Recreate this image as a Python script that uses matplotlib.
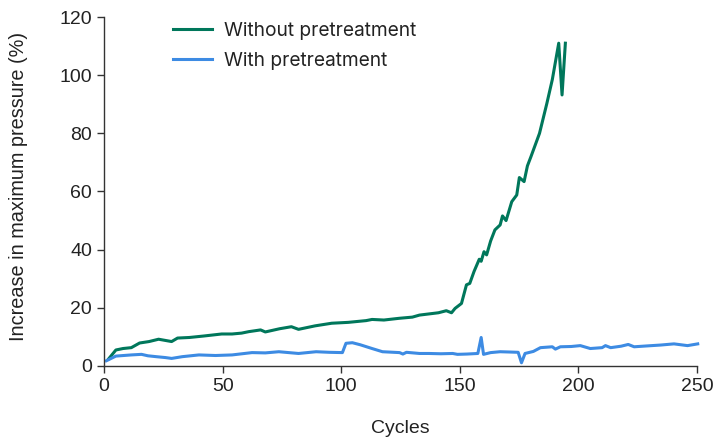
import matplotlib
matplotlib.use("Agg")
import matplotlib.pyplot as plt

plt.rcParams['font.family'] = ['Liberation Sans', 'DejaVu Sans']

# Without pretreatment (green)
cyc_without = [2, 5, 8, 11.5, 15, 19, 23, 28.5, 31, 36, 42, 49.6, 54, 58, 61, 66, 68, 74, 79, 82,
               89, 96, 103, 110.5, 113, 118, 124.5, 130, 133, 137, 141, 144.3, 146.5, 148, 150.7,
               152.8, 154.2, 156, 158.2, 159, 160.2, 161.3, 163, 164.8, 167, 168, 169.5, 171.9,
               174, 175.1, 177.1, 178.5, 180, 181.8, 183.6, 186.7, 189, 191.7, 193.1, 194.5]
val_without = [2.5, 5.5, 6.0, 6.3, 7.9, 8.4, 9.2, 8.4, 9.6, 9.8, 10.3, 11.0, 11.0, 11.3, 11.8, 12.4, 11.7,
               12.8, 13.5, 12.6, 13.8, 14.7, 15.0, 15.6, 16.0, 15.8, 16.4, 16.8, 17.5, 17.9, 18.3,
               19.0, 18.3, 19.8, 21.5, 27.9, 28.4, 32.5, 36.7, 36.0, 39.3, 38.2, 43.0, 46.8, 48.5,
               51.6, 50.0, 56.5, 58.8, 64.8, 63.4, 68.8, 72.0, 76.0, 80.0, 90.3, 98.5, 111.0, 93.2, 111.0]

# With pretreatment (blue)
cyc_with = [1, 5, 11.5, 15.8, 18.5, 22, 25.8, 28.5, 33, 40, 47, 54, 62.4, 68, 73.7, 82, 89.4, 95,
            100.5, 102, 104.7, 108, 113, 117.4, 124.6, 126, 127.5, 133, 137, 142, 147, 149, 153,
            157.6, 159, 160, 163, 167, 171, 174.6, 176, 177.5, 181, 184, 189, 190.3, 192.4, 197,
            200.8, 205, 210, 211.4, 213.6, 218, 221, 223.5, 229, 234.7, 240.3, 246, 250.3]
val_with = [1.8, 3.4, 3.8, 4.0, 3.5, 3.2, 2.9, 2.6, 3.2, 3.8, 3.6, 3.8, 4.6, 4.5, 4.9, 4.3, 4.9, 4.7,
            4.6, 7.8, 8.0, 7.3, 6.0, 4.9, 4.6, 4.1, 4.7, 4.3, 4.3, 4.2, 4.3, 4.0, 4.1, 4.3, 9.8, 4.0,
            4.6, 4.9, 4.8, 4.7, 1.1, 4.3, 5.0, 6.3, 6.6, 5.8, 6.6, 6.7, 7.0, 6.0, 6.3, 7.0, 6.3,
            6.8, 7.4, 6.6, 6.9, 7.2, 7.6, 7.0, 7.6]

x_ticks = [0, 50, 100, 150, 200, 250]
y_ticks = [0, 20, 40, 60, 80, 100, 120]

fig = plt.figure(figsize=(7.14, 4.42), dpi=100)
ax = fig.add_axes([0.1457, 0.172, 0.8305, 0.7895])

green = '#00775b'
blue = '#3d8be3'
ax.plot(cyc_without, val_without, color=green, lw=2.2, label='Without pretreatment',
        solid_joinstyle='round', clip_on=False)
ax.plot(cyc_with, val_with, color=blue, lw=2.2, label='With pretreatment',
        solid_joinstyle='round', clip_on=False)

ax.set_xlim(0, 250)
ax.set_ylim(0, 120)
ax.set_xticks(x_ticks)
ax.set_yticks(y_ticks)
for s in ['top', 'right']:
    ax.spines[s].set_visible(False)
for s in ['left', 'bottom']:
    ax.spines[s].set_color('#333333')
    ax.spines[s].set_linewidth(1.0)
ax.tick_params(axis='both', labelsize=14, colors='#222222', length=5, width=1.0, direction='out')
ax.tick_params(axis='both', color='#333333')
ax.set_xlabel('Cycles', fontsize=14, color='#222222', labelpad=18.5)
ax.set_ylabel('Increase in maximum pressure (%)', fontsize=14.3, color='#222222')
ax.yaxis.set_label_coords(-0.128, 0.514)

leg = ax.legend(loc='upper left', bbox_to_anchor=(0.088, 1.036), frameon=False,
                prop={'family': 'Inter', 'size': 13.8},
                handlelength=2.0, handletextpad=0.65, labelspacing=0.62)
for t in leg.get_texts():
    t.set_color('#222222')

fig.savefig('out.png', dpi=100)
